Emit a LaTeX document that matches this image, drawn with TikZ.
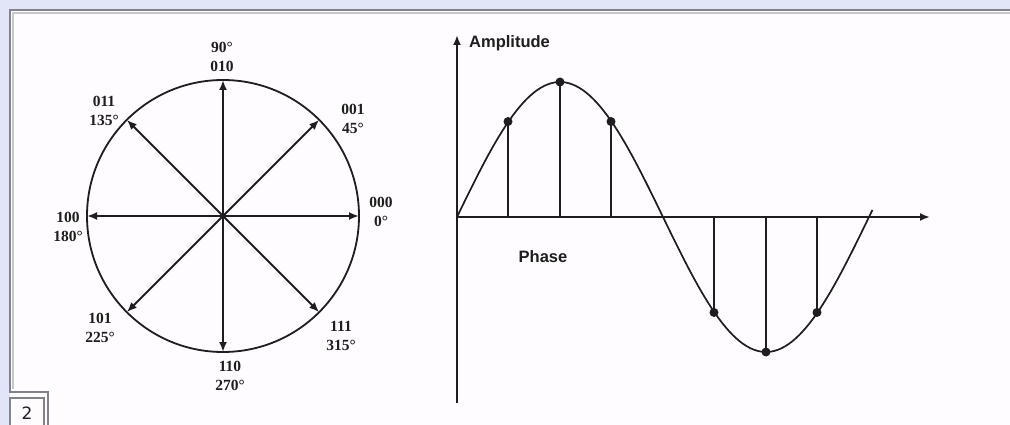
\documentclass[tikz,border=0pt]{standalone}
\usepackage{fontspec}
\usetikzlibrary{arrows.meta}
\newfontfamily\labfont{Liberation Serif}
\newfontfamily\axfont{Liberation Sans}
\newfontfamily\tabfont{DejaVu Sans}
\definecolor{bgl}{RGB}{226,228,247}
\definecolor{ink}{RGB}{30,30,30}
\definecolor{framec}{RGB}{130,130,140}
\definecolor{paper}{RGB}{254,252,254}
\tikzset{
  vec/.style={draw=ink, line width=2pt, -{Latex[length=10pt,width=8pt]}},
  axisline/.style={draw=ink, line width=2pt, -{Latex[length=10pt,width=8pt]}},
  stemline/.style={draw=ink, line width=2pt},
  wave/.style={draw=ink, line width=1.7pt},
  dotmark/.style={circle, fill=ink, inner sep=0pt, minimum size=9pt},
  phlabel/.style={align=center, inner sep=0pt, text=ink, font=\labfont\bfseries\fontsize{15.5}{19}\selectfont},
  axlabel/.style={inner sep=0pt, text=ink, font=\axfont\bfseries\fontsize{16.5}{19}\selectfont}
}
\begin{document}
\begin{tikzpicture}[x=1pt,y=-1pt]
\useasboundingbox (0,0) rectangle (1010,425);
\fill[bgl] (0,0) rectangle (1010,425);
\fill[paper] (10,10) rectangle (1010,425);
% panel frame
\draw[framec, line width=1.8pt] (1010,10) -- (10,10) -- (10,392) -- (48,392) -- (48,425);
\draw[framec!45, line width=1.2pt] (1010,13) -- (13,13) -- (13,389);
% tab
\fill[bgl] (0,392) rectangle (9.1,425);
\draw[framec, line width=1.6pt] (10,425) -- (10,398) -- (44,398) -- (44,425);
\node[font=\tabfont\fontsize{17}{19}\selectfont, text=ink] (tab) at (27,413.5) {2};

% phase circle
\node[draw=ink, line width=1.8pt, circle, minimum size=272pt, inner sep=0pt, outer sep=0pt] (C) at (223,216) {};
\foreach \ang in {0,45,90,135,180,225,270,315} {
  \draw[vec] (C.center) -- (C.\ang);
}
\node[phlabel] (l90)  at (222,57)    {90°\\010};
\node[phlabel] (l45)  at (353,118.5) {001\\45°};
\node[phlabel] (l135) at (104,111)   {011\\135°};
\node[phlabel] (l0)   at (381,212)   {000\\0°};
\node[phlabel] (l180) at (68,226.5)  {100\\180°};
\node[phlabel] (l225) at (100,327.5) {101\\225°};
\node[phlabel] (l315) at (341,336)   {111\\315°};
\node[phlabel] (l270) at (230,375.5) {110\\270°};

% amplitude / phase plot
\coordinate (O) at (457,217);
\coordinate (ytop) at (457,35);
\coordinate (ybot) at (457,403);
\coordinate (xend) at (930,217);
\draw[axisline] (ybot) -- (ytop);
\draw[axisline] (O) -- (xend);
\node[axlabel, anchor=west] (amp) at (469,43) {Amplitude};
\node[axlabel] (phase) at (543,257) {Phase};
\draw[wave] plot[domain=0:363, samples=120] ({457+\x*1.14444},{217-135*sin(\x)});
\foreach \ang/\px in {45/508,90/560,135/611,225/714,270/766,315/817} {
  \coordinate (s\ang) at (\px,217);
  \coordinate (p\ang) at (\px,{217-135*sin(\ang)});
  \draw[stemline] (s\ang) -- (p\ang);
  \node[dotmark] (d\ang) at (p\ang) {};
}
\end{tikzpicture}
\end{document}
